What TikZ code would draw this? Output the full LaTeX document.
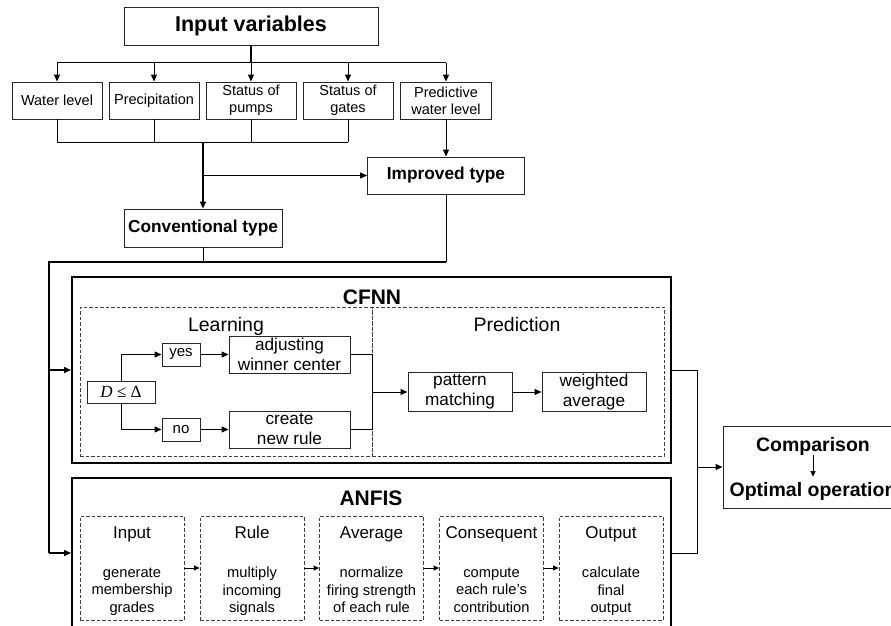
\documentclass[tikz,border=0pt]{standalone}
\usepackage{fontspec}
\setmainfont{Liberation Sans}
\newfontfamily\tms{Liberation Serif}
\usetikzlibrary{arrows.meta}
\begin{document}
\begin{tikzpicture}[x=1pt,y=-1pt,
  bx/.style={draw=black!85,line width=0.9pt,inner sep=0pt,align=center},
  big/.style={draw=black,line width=2pt,inner sep=0pt},
  dbox/.style={draw=black!75,line width=0.8pt,dash pattern=on 3.5pt off 2pt,inner sep=0pt},
  ln/.style={line width=1pt},
  thk/.style={line width=2pt},
  arr/.style={line width=1pt,-{Triangle[length=7pt,width=6pt]}},
  sarr/.style={line width=1pt,-{Triangle[length=5.5pt,width=5pt]}},
  fsm/.style={font=\fontsize{14.5}{17}\selectfont},
  fmid/.style={font=\fontsize{17.2}{20}\selectfont},
  fmidb/.style={font=\bfseries\fontsize{17.3}{20}\selectfont},
  ftitle/.style={font=\bfseries\fontsize{21.5}{24}\selectfont},
  flab/.style={font=\fontsize{19.5}{22}\selectfont},
  fbody/.style={font=\fontsize{14.7}{17.5}\selectfont,align=center,inner sep=0pt,
                execute at begin node=\strut,execute at end node=\strut},
  inbox/.style={bx,fsm,minimum width=90,minimum height=37},
  abox/.style={dbox,minimum width=104,minimum height=104},
]
\useasboundingbox (0,0) rectangle (891,626);
\clip (0,0) rectangle (891,626);

% top part
\node[bx,ftitle,minimum width=254,minimum height=38] (inp) at (251,26) {Input variables};
\node[inbox] (wl) at (57,100.5) {Water level};
\node[inbox] (pr) at (154,100.5) {Precipitation};
\node[inbox] (sp) at (251,100.5) {Status of\\pumps};
\node[inbox] (sg) at (348,100.5) {Status of\\gates};
\node[inbox,minimum width=91] (pw) at (446,100.5) {Predictive\\water level};
\node[bx,fmidb,minimum width=157,minimum height=37] (imp) at (446,175.5) {Improved type};
\node[bx,fmidb,minimum width=158,minimum height=38] (conv) at (203,228) {Conventional type};

% CFNN
\node[big,minimum width=599,minimum height=186] (cfnn) at (371.5,370) {};
\node[font=\bfseries\fontsize{21}{24}\selectfont,anchor=base,inner sep=0pt] (cft) at (372,304) {CFNN};
\node[dbox,minimum width=292,minimum height=149] (lrn) at (226,381.5) {};
\node[dbox,minimum width=292,minimum height=149] (prd) at (518,381.5) {};
\node[flab,anchor=base,inner sep=0pt] (lrnt) at (226,331) {Learning};
\node[flab,anchor=base,inner sep=0pt] (prdt) at (517,331) {Prediction};
\node[bx,minimum width=68,minimum height=22,font=\tms\fontsize{17}{20}\selectfont] (dd) at (121,392) {\itshape D \upshape≤ Δ};
\node[bx,minimum width=38,minimum height=23,font=\fontsize{15}{18}\selectfont] (yes) at (181,354.5) {yes};
\node[bx,minimum width=38,minimum height=23,font=\fontsize{15}{18}\selectfont] (no) at (181,429.5) {no};
\node[bx,fmid,minimum width=121,minimum height=37] (adj) at (289.5,354.5) {adjusting\\winner center};
\node[bx,fmid,minimum width=121,minimum height=37] (cre) at (289.5,429.5) {create\\new rule};
\node[bx,fmid,minimum width=104,minimum height=39] (pm) at (460,392) {pattern\\matching};
\node[bx,fmid,minimum width=104,minimum height=39] (wa) at (594,392) {weighted\\average};

% ANFIS
\node[big,minimum width=599,minimum height=150] (anfis) at (371.5,553) {};
\node[font=\bfseries\fontsize{21}{24}\selectfont,anchor=base,inner sep=0pt] (ant) at (371,505.5) {ANFIS};
\node[abox] (a1) at (132,568) {};
\node[abox] (a2) at (252,568) {};
\node[abox] (a3) at (371.5,568) {};
\node[abox] (a4) at (491.5,568) {};
\node[abox] (a5) at (611,568) {};
\foreach \n/\t in {a1/Input,a2/Rule,a3/Average,a4/Consequent,a5/Output}
  \node[font=\fontsize{17}{20}\selectfont,anchor=base,inner sep=0pt] (\n h) at (\n |- 0,538) {\t};
\node[fbody] (a1b) at (a1 |- 0,592.5) {generate\\membership\\grades};
\node[fbody] (a2b) at (a2 |- 0,592.5) {multiply\\incoming\\signals};
\node[fbody] (a3b) at (a3 |- 0,592.5) {normalize\\firing strength\\of each rule};
\node[fbody] (a4b) at (a4 |- 0,592.5) {compute\\each rule's\\contribution};
\node[fbody] (a5b) at (a5 |- 0,592.5) {calculate\\final\\output};

% comparison
\node[bx,minimum width=180,minimum height=82] (comp) at (813,467) {};
\node[font=\bfseries\fontsize{19.5}{22}\selectfont,anchor=base,inner sep=0pt] (ct) at (813,451) {Comparison};
\node[font=\bfseries\fontsize{19.5}{22}\selectfont,anchor=base,inner sep=0pt] (ot) at (813,496) {Optimal operation};

% connectors: top
\coordinate (tb) at (251,63);
\draw[line width=1.8pt] (inp.south) -- (tb);
\draw[ln] (wl |- tb) -- (pw |- tb);
\foreach \n in {wl,pr,sp,sg,pw} \draw[arr] (\n |- tb) -- (\n.north);
\coordinate (bb) at (203,142);
\draw[ln] (wl.south) -- (wl |- bb) -- (sg |- bb);
\foreach \n in {pr,sp,sg} \draw[ln] (\n.south) -- (\n |- bb);
\draw[arr,line width=1.5pt] (bb) -- (conv.north);
\draw[arr] (conv.north |- imp.west) -- (imp.west);
\draw[arr] (pw.south) -- (imp.north);

% bus to models
\coordinate (lb) at (49,262);
\draw[ln] (conv.south) -- (conv.south |- lb);
\draw[ln] (imp.south) -- (imp.south |- lb);
\draw[thk] (imp.south |- lb) -- (lb) -- (lb |- anfis.west);
\draw[arr,line width=1.5pt] (lb |- cfnn.west) -- (cfnn.west);
\draw[arr,line width=1.5pt] (lb |- anfis.west) -- (anfis.west);

% learning
\draw[arr] (dd.north) |- (yes.west);
\draw[arr] (dd.south) |- (no.west);
\draw[arr] (yes.east) -- (adj.west);
\draw[arr] (no.east) -- (cre.west);
\coordinate (jx) at (372,392);
\draw[ln] (adj.east) -| (jx);
\draw[ln] (cre.east) -| (jx);
\draw[arr] (jx) -- (pm.west);
\draw[arr] (pm.east) -- (wa.west);

% anfis chain
\draw[sarr] (a1.east) -- (a2.west);
\draw[sarr] (a2.east) -- (a3.west);
\draw[sarr] (a3.east) -- (a4.west);
\draw[sarr] (a4.east) -- (a5.west);

% outputs
\coordinate (rj) at (697,467);
\draw[ln] (cfnn.east) -| (rj);
\draw[ln] (anfis.east) -| (rj);
\draw[arr] (rj) -- (comp.west);
\draw[sarr,shorten >=5pt] (ct.south) -- (ot.north);
\end{tikzpicture}
\end{document}
